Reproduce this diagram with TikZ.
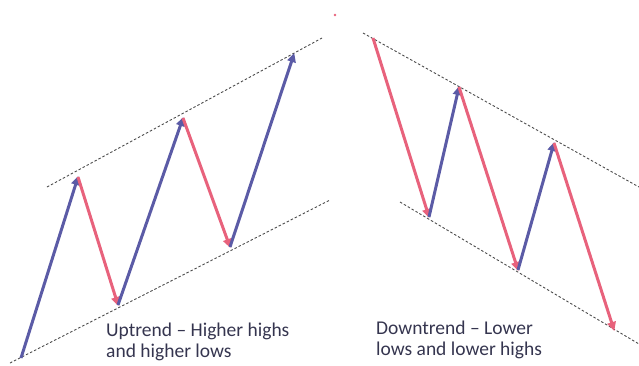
\documentclass[tikz,border=0pt]{standalone}
\usepackage{fontspec}
\setmainfont{Carlito}
\usetikzlibrary{arrows.meta}
\definecolor{upblue}{HTML}{5B5BA6}
\definecolor{downred}{HTML}{E8627C}
\definecolor{txt}{HTML}{35354F}
\tikzset{
  upar/.style={draw=upblue, line width=3pt, -{Triangle[length=9pt,width=8.5pt]}, shorten >=-1pt},
  dnar/.style={draw=downred, line width=3pt, -{Triangle[length=9pt,width=8.5pt]}, shorten >=-1pt},
  trend/.style={draw=black!70, line width=0.9pt, dash pattern=on 2.5pt off 2pt},
  lbl/.style={text=txt, font=\fontsize{19.5}{21}\selectfont, align=left, anchor=base west, inner sep=0pt}
}
\begin{document}
\begin{tikzpicture}[x=1pt,y=-1pt]
\useasboundingbox (0,0) rectangle (639,365);
% uptrend
\coordinate (u0) at (21,358);
\coordinate (u1) at (78,177);
\coordinate (u2) at (118,305);
\coordinate (u3) at (183,118);
\coordinate (u4) at (230,247);
\coordinate (u5) at (294,54);
\coordinate (ua1) at (47,187);
\coordinate (ua2) at (322,38);
\coordinate (ub1) at (10,363);
\coordinate (ub2) at (330,200);
\draw[trend] (ua1) -- (ua2);
\draw[trend] (ub1) -- (ub2);
\draw[upar] (u0) -- (u1);
\draw[dnar] (u1) -- (u2);
\draw[upar] (u2) -- (u3);
\draw[dnar] (u3) -- (u4);
\draw[upar] (u4) -- (u5);
\node[lbl] (ut) at (106,357) {Uptrend – Higher highs\\and higher lows};
% downtrend
\coordinate (d0) at (373,38);
\coordinate (d1) at (429,217);
\coordinate (d2) at (459,87);
\coordinate (d3) at (518,270);
\coordinate (d4) at (554,143);
\coordinate (d5) at (614,330);
\coordinate (da1) at (363,33);
\coordinate (da2) at (639,187);
\coordinate (db1) at (400,202);
\coordinate (db2) at (639,344);
\draw[trend] (da1) -- (da2);
\draw[trend] (db1) -- (db2);
\draw[dnar] (d0) -- (d1);
\draw[upar] (d1) -- (d2);
\draw[dnar] (d2) -- (d3);
\draw[upar] (d3) -- (d4);
\draw[dnar] (d4) -- (d5);
\node[lbl] (dt) at (376,355) {Downtrend – Lower\\lows and lower highs};
% small mark
\coordinate (m) at (335,15);
\fill[downred] (m) circle (1.3pt);
\end{tikzpicture}
\end{document}
